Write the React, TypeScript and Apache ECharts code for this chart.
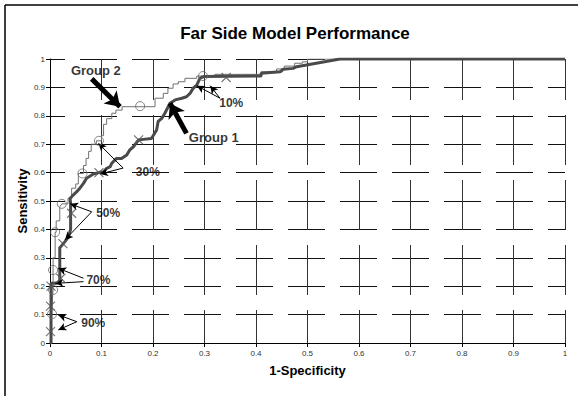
import React, { useEffect, useRef } from "react";
import * as echarts from "echarts";

// ---- Data ----
const xTicks = [0, 0.1, 0.2, 0.3, 0.4, 0.5, 0.6, 0.7, 0.8, 0.9, 1];

// Group 1 (thick) ROC path: [1-specificity, sensitivity]
const group1Curve: number[][] = [
  [0, 0], [0.002, 0], [0.002, 0.04], [0.002, 0.13], [0.002, 0.21], [0.013, 0.21], [0.019, 0.22],
  [0.019, 0.335], [0.029, 0.357], [0.036, 0.374], [0.04, 0.4], [0.04, 0.49], [0.039, 0.509],
  [0.045, 0.521], [0.052, 0.533], [0.058, 0.545], [0.065, 0.562], [0.071, 0.58], [0.078, 0.588],
  [0.084, 0.595], [0.095, 0.6], [0.104, 0.603], [0.11, 0.615], [0.117, 0.621], [0.12, 0.633],
  [0.129, 0.65], [0.139, 0.65], [0.149, 0.662], [0.155, 0.68], [0.162, 0.691], [0.172, 0.715],
  [0.181, 0.717], [0.197, 0.72], [0.207, 0.75], [0.21, 0.78], [0.217, 0.791], [0.223, 0.809],
  [0.233, 0.844], [0.243, 0.856], [0.256, 0.862], [0.265, 0.867], [0.272, 0.879], [0.278, 0.897],
  [0.285, 0.908], [0.291, 0.932], [0.298, 0.938], [0.41, 0.94], [0.41, 0.95], [0.447, 0.955],
  [0.453, 0.964], [0.472, 0.967], [0.479, 0.973], [0.498, 0.979], [0.563, 1], [1, 1],
];

// Group 2 (thin) ROC path
const group2Curve: number[][] = [
  [0, 0], [0.003, 0], [0.003, 0.1], [0.004, 0.13], [0.006, 0.19], [0.006, 0.3], [0.01, 0.3],
  [0.01, 0.39], [0.012, 0.39], [0.012, 0.43], [0.019, 0.43], [0.019, 0.48], [0.023, 0.49],
  [0.035, 0.49], [0.035, 0.51], [0.042, 0.51], [0.042, 0.545], [0.05, 0.545], [0.05, 0.56],
  [0.055, 0.56], [0.055, 0.597], [0.065, 0.597], [0.065, 0.625], [0.07, 0.625], [0.07, 0.65],
  [0.075, 0.65], [0.075, 0.675], [0.08, 0.675], [0.08, 0.7], [0.09, 0.7], [0.09, 0.712],
  [0.1, 0.712], [0.1, 0.73], [0.104, 0.73], [0.104, 0.77], [0.11, 0.77], [0.11, 0.79],
  [0.12, 0.79], [0.12, 0.809], [0.128, 0.809], [0.128, 0.82], [0.14, 0.82], [0.14, 0.832],
  [0.204, 0.832], [0.204, 0.862], [0.22, 0.862], [0.22, 0.879], [0.229, 0.879], [0.229, 0.897],
  [0.239, 0.897], [0.239, 0.912], [0.249, 0.912], [0.249, 0.92], [0.262, 0.92], [0.262, 0.932],
  [0.285, 0.932], [0.285, 0.94], [0.32, 0.94], [0.32, 0.946], [0.41, 0.946], [0.41, 0.955],
  [0.44, 0.955], [0.44, 0.965], [0.455, 0.965], [0.455, 0.975], [0.475, 0.975], [0.475, 0.985],
  [0.49, 0.985], [0.49, 0.99], [0.5, 0.99], [0.5, 1], [1, 1],
];

// Threshold markers
const group1Thresholds: number[][] = [
  [0.001, 0.04], [0.001, 0.13], [0.002, 0.2], [0.021, 0.228], [0.025, 0.35],
  [0.042, 0.457], [0.095, 0.6], [0.172, 0.715], [0.342, 0.935],
];
const group2Thresholds: number[][] = [
  [0.004, 0.102], [0.006, 0.187], [0.006, 0.257], [0.01, 0.39], [0.023, 0.49],
  [0.063, 0.597], [0.095, 0.712], [0.175, 0.834], [0.297, 0.94],
];

// Annotation texts, anchored in data coordinates
const percentLabels = [
  { name: "10%", at: [0.352, 0.845] },
  { name: "30%", at: [0.19, 0.602] },
  { name: "50%", at: [0.113, 0.458] },
  { name: "70%", at: [0.094, 0.222] },
  { name: "90%", at: [0.084, 0.072] },
];
const groupLabels = [
  { name: "Group 2", at: [0.089, 0.958] },
  { name: "Group 1", at: [0.318, 0.725] },
];
// Thin arrows [from, to]
const thinArrows: number[][][] = [
  [[0.33, 0.862], [0.285, 0.906]],
  [[0.33, 0.862], [0.311, 0.906]],
  [[0.142, 0.616], [0.094, 0.703]],
  [[0.142, 0.616], [0.097, 0.595]],
  [[0.081, 0.462], [0.039, 0.49]],
  [[0.081, 0.462], [0.029, 0.363]],
  [[0.065, 0.228], [0.016, 0.263]],
  [[0.065, 0.216], [0.01, 0.21]],
  [[0.052, 0.075], [0.016, 0.099]],
  [[0.052, 0.075], [0.016, 0.046]],
];
// Thick arrows [from, to]
const thickArrows: number[][][] = [
  [[0.081, 0.93], [0.136, 0.832]],
  [[0.265, 0.738], [0.233, 0.844]],
];

const FONT = "Liberation Sans, Arial, sans-serif";
const X_SYMBOL = "path://M0,0L10,10M10,0L0,10";

export default function App() {
  const ref = useRef<HTMLDivElement>(null);

  useEffect(() => {
    if (!ref.current) return;
    const chart = echarts.init(ref.current, undefined, { renderer: "svg" });

    const axisCommon = {
      type: "value" as const,
      min: 0,
      max: 1,
      interval: 0.1,
      axisLine: { show: true, onZero: false, lineStyle: { color: "#000", width: 1 } },
      axisTick: { show: true, length: 4, lineStyle: { color: "#000" } },
      axisLabel: { fontSize: 8, color: "#333", fontFamily: FONT },
    };
    const fmt = (v: number) => String(xTicks.find((t) => Math.abs(t - v) < 1e-6) ?? v);

    chart.setOption({
      animation: false,
      backgroundColor: "#fff",
      grid: { left: 50, right: 13, top: 59, bottom: 53, containLabel: false },
      graphic: [
        { type: "line", shape: { x1: 5, y1: 5, x2: 578, y2: 5 }, style: { stroke: "#000", lineWidth: 1.5 } },
        { type: "line", shape: { x1: 5, y1: 5, x2: 5, y2: 396 }, style: { stroke: "#000", lineWidth: 1.5 } },
        {
          type: "text",
          x: 295,
          y: 33,
          style: {
            text: "Far Side Model Performance",
            font: `bold 17px ${FONT}`,
            fill: "#000",
            textAlign: "center",
            textVerticalAlign: "middle",
          },
        },
      ],
      xAxis: {
        ...axisCommon,
        name: "1-Specificity",
        nameLocation: "middle",
        nameGap: 21,
        nameMoveOverlap: false,
        nameTextStyle: { fontSize: 13, fontWeight: "bold", color: "#000", fontFamily: FONT },
        axisLabel: { ...axisCommon.axisLabel, margin: 6, formatter: fmt },
        splitLine: {
          show: true,
          lineStyle: { color: "#333", width: 1, type: [50, 15], dashOffset: 9 },
        },
      },
      yAxis: {
        ...axisCommon,
        name: "Sensitivity",
        nameLocation: "middle",
        nameGap: 21,
        nameMoveOverlap: false,
        nameTextStyle: { fontSize: 13, fontWeight: "bold", color: "#000", fontFamily: FONT },
        axisLabel: { ...axisCommon.axisLabel, margin: 5, formatter: fmt },
        splitLine: {
          show: true,
          lineStyle: { color: "#111", width: 1, type: [37, 15], dashOffset: 22 },
        },
      },
      series: [
        {
          name: "Group 2",
          type: "line",
          data: group2Curve,
          showSymbol: false,
          z: 3,
          lineStyle: { color: "#707070", width: 1 },
        },
        {
          name: "Group 1",
          type: "line",
          data: group1Curve,
          showSymbol: false,
          z: 4,
          lineStyle: { color: "#4a4a4a", width: 3 },
        },
        {
          name: "Group 2 thresholds",
          type: "scatter",
          data: group2Thresholds,
          symbol: "circle",
          symbolSize: 9,
          z: 5,
          itemStyle: { color: "rgba(255,255,255,0)", borderColor: "#666", borderWidth: 1 },
          markLine: {
            silent: true,
            symbol: ["none", "arrow"],
            symbolSize: [6, 8],
            label: { show: false },
            lineStyle: { color: "#000", width: 1, type: "solid" },
            emphasis: { disabled: true },
            data: thinArrows.map(([a, b]) => [{ coord: a }, { coord: b }]),
          },
        },
        {
          name: "Group 1 thresholds",
          type: "scatter",
          data: group1Thresholds,
          symbol: X_SYMBOL,
          symbolSize: 9,
          z: 5,
          itemStyle: { color: "none", borderColor: "#555", borderWidth: 1.2 },
          markLine: {
            silent: true,
            symbol: ["none", "arrow"],
            symbolSize: [14, 14],
            label: { show: false },
            lineStyle: { color: "#000", width: 5, type: "solid" },
            emphasis: { disabled: true },
            data: thickArrows.map(([a, b]) => [{ coord: a }, { coord: b }]),
          },
        },
        {
          name: "percent labels",
          type: "scatter",
          data: percentLabels.map((l) => ({ name: l.name, value: l.at })),
          symbolSize: 0,
          silent: true,
          z: 6,
          label: {
            show: true,
            position: "inside",
            formatter: (p: any) => p.name,
            fontSize: 12,
            fontWeight: "bold",
            color: "#000",
            fontFamily: FONT,
          },
        },
        {
          name: "group labels",
          type: "scatter",
          data: groupLabels.map((l) => ({ name: l.name, value: l.at })),
          symbolSize: 0,
          silent: true,
          z: 6,
          label: {
            show: true,
            position: "inside",
            formatter: (p: any) => p.name,
            fontSize: 13,
            fontWeight: "bold",
            color: "#000",
            fontFamily: FONT,
          },
        },
      ],
    });

    return () => chart.dispose();
  }, []);

  return (
    <div
      ref={ref}
      style={{ position: "fixed", left: 0, top: 0, width: 578, height: 396, background: "#fff" }}
    />
  );
}
